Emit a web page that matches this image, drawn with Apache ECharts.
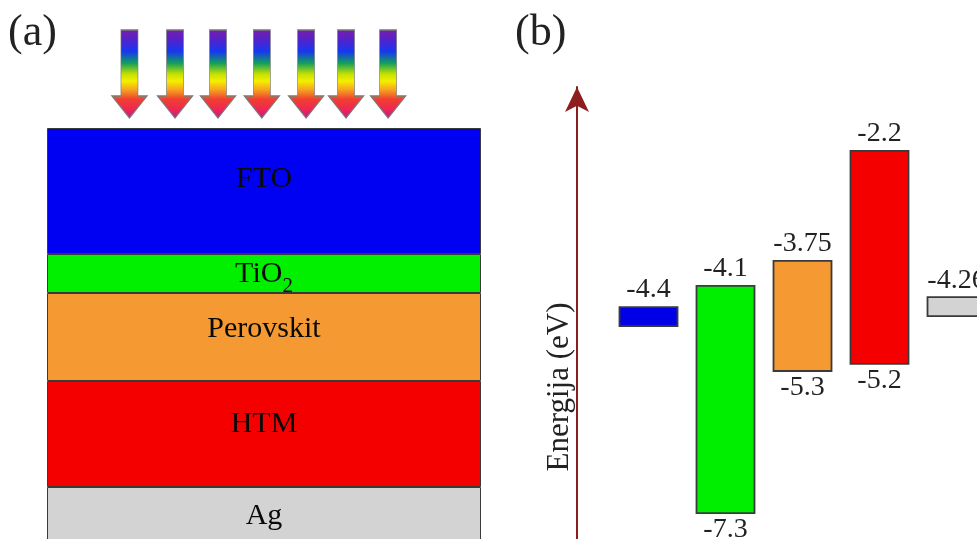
<!DOCTYPE html>
<html><head><meta charset="utf-8">
<script src="https://cdn.jsdelivr.net/npm/echarts@6/dist/echarts.min.js"></script>
<style>html,body{margin:0;padding:0;background:#fff}#c{width:977px;height:539px}</style>
</head><body><div id="c"></div>
<script>
// ---------- Panel (a): device stack ----------
const layerNames = ['FTO', 'TiO2', 'Perovskit', 'HTM', 'Ag'];
const layerThickness = [12.6, 3.9, 8.8, 10.6, 6];        // schematic thickness units
// incoming light rays, position across the device width (%)
const rayPositions = [19, 29.5, 39.4, 49.5, 59.7, 68.9, 78.6];

// ---------- Panel (b): energy levels (eV) ----------
const materials = ['FTO', 'TiO2', 'Perovskit', 'HTM', 'Ag'];
const upperLevel = [-4.4, -4.1, -3.75, -2.2, -4.26];
const lowerLevel = [null, -7.3, -5.3, -5.2, null];

// ---------- styles ----------
const layerColors = ['#0000f2', '#00f000', '#f59a33', '#f50000', '#d3d3d3'];
const bandColors = ['#0000e6', '#00ee00', '#f59a33', '#f50000', '#d3d3d3'];
const labelOffsets = [-12, 1, -8, -10, -1];
const FONT = '"Liberation Serif", "Times New Roman", serif';

const chart = echarts.init(document.getElementById('c'), null, {renderer: 'canvas'});

const rayGradient = new echarts.graphic.LinearGradient(0, 0, 0, 1, [
  {offset: 0, color: '#7a1fa6'},
  {offset: 0.12, color: '#5222cc'},
  {offset: 0.25, color: '#1638f0'},
  {offset: 0.38, color: '#12a05a'},
  {offset: 0.5, color: '#c4e000'},
  {offset: 0.58, color: '#f5ef00'},
  {offset: 0.68, color: '#f5a020'},
  {offset: 0.78, color: '#f04030'},
  {offset: 0.9, color: '#ee2555'},
  {offset: 1, color: '#c21892'}
]);

const layerSeries = layerNames.map((n, i) => ({
  type: 'bar', name: n, stack: 'device', xAxisIndex: 0, yAxisIndex: 0,
  barWidth: '100%', clip: false,
  data: [layerThickness[i]],
  itemStyle: {color: layerColors[i], borderColor: '#3a3a3a', borderWidth: 1},
  emphasis: {disabled: true},
  label: {
    show: true, position: 'inside', offset: [0, labelOffsets[i]],
    formatter: n === 'TiO2' ? '{m|TiO}{s|2}' : n,
    color: '#0a0a0a', fontFamily: FONT, fontSize: 30,
    textBorderWidth: 0, textShadowBlur: 0,
    rich: {
      m: {fontFamily: FONT, fontSize: 30, color: '#0a0a0a', lineHeight: 30, verticalAlign: 'top', textBorderWidth: 0},
      s: {fontFamily: FONT, fontSize: 21, color: '#0a0a0a', lineHeight: 14, verticalAlign: 'top',
        padding: [16, 0, 0, 0], textBorderWidth: 0}
    }
  }
}));

const option = {
  animation: false,
  backgroundColor: '#fff',
  title: [
    {text: '(a)', left: 3, top: 6, textStyle: {fontFamily: FONT, fontSize: 44, fontWeight: 'normal', color: '#222'}},
    {text: '(b)', left: 510, top: 6, textStyle: {fontFamily: FONT, fontSize: 44, fontWeight: 'normal', color: '#222'}}
  ],
  grid: [
    {left: 47, top: 128, width: 434, height: 431, outerBoundsMode: 'none', containLabel: false},
    {left: 47, top: 30, width: 434, height: 88, outerBoundsMode: 'none', containLabel: false},
    {left: 610, top: 87, width: 385, height: 600, outerBoundsMode: 'none', containLabel: false}
  ],
  xAxis: [
    {type: 'category', gridIndex: 0, data: ['device'], show: false},
    {type: 'value', gridIndex: 1, min: 0, max: 100, show: false},
    {type: 'category', gridIndex: 2, data: materials, show: false}
  ],
  yAxis: [
    {type: 'value', gridIndex: 0, inverse: true, min: 0, max: 43.1, show: false},
    {type: 'value', gridIndex: 1, min: 0, max: 1, show: false},
    {
      type: 'value', gridIndex: 2, min: -9.75, max: -1.3, offset: 33,
      axisLine: {show: true, symbol: ['none', 'arrow'], symbolSize: [18, 25],
        lineStyle: {color: '#8e1e1e', width: 2}},
      axisTick: {show: false}, axisLabel: {show: false}, splitLine: {show: false},
      name: 'Energija (eV)', nameLocation: 'middle', nameGap: 2,
      nameTextStyle: {fontFamily: FONT, fontSize: 31, color: '#222'}
    }
  ],
  series: [
    ...layerSeries,
    {
      type: 'scatter', xAxisIndex: 1, yAxisIndex: 1, clip: false,
      data: rayPositions.map(p => [p, 0.5]),
      symbol: 'path://M9,0L26,0L26,66L35,66L17.5,88L0,66L9,66Z',
      symbolSize: [35, 88],
      itemStyle: {color: rayGradient, borderColor: '#7a7a7a', borderWidth: 1, opacity: 1},
      emphasis: {disabled: true}
    },
    {
      type: 'custom', xAxisIndex: 2, yAxisIndex: 2, clip: false,
      encode: {x: 0, y: [1, 2]},
      data: materials.map((m, i) => [i, upperLevel[i], lowerLevel[i] == null ? '-' : lowerLevel[i]]),
      renderItem: function (params, api) {
        const i = api.value(0), top = api.value(1), bot = api.value(2);
        const pt = api.coord([i, top]);
        const thin = isNaN(bot);
        const yb = thin ? pt[1] + 19 : api.coord([i, bot])[1];
        const w = 58;
        const children = [
          {type: 'rect', shape: {x: pt[0] - w / 2, y: pt[1], width: w, height: yb - pt[1]},
            style: {fill: bandColors[params.dataIndex], stroke: '#3a3a3a', lineWidth: 1.8}},
          {type: 'text', style: {text: String(top), x: pt[0], y: pt[1] - 3, align: 'center',
            verticalAlign: 'bottom', fontFamily: FONT, fontSize: 28, fill: '#222'}}
        ];
        if (!thin) {
          children.push({type: 'text', style: {text: String(bot), x: pt[0], y: yb + 3, align: 'center',
            verticalAlign: 'top', fontFamily: FONT, fontSize: 28, fill: '#222'}});
        }
        return {type: 'group', children: children};
      }
    }
  ]
};
chart.setOption(option);
</script>
</body></html>
